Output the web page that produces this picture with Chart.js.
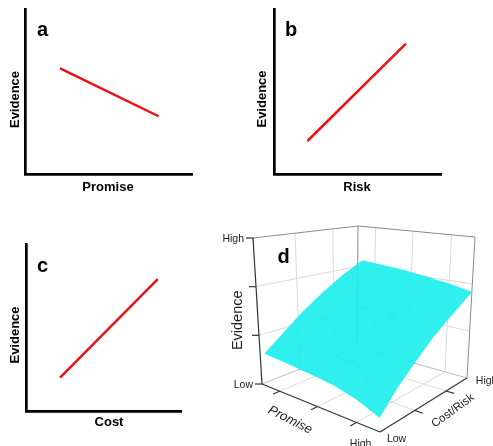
<!DOCTYPE html>
<html><head><meta charset="utf-8">
<script src="https://cdn.jsdelivr.net/npm/chart.js@4"></script>
<style>
html,body{margin:0;padding:0;background:#fff;}
#wrap{position:relative;width:493px;height:446px;overflow:hidden;background:#fff;}
canvas{position:absolute;left:0;top:0;}
</style></head><body>
<div id="wrap">
<canvas id="ca" width="493" height="446"></canvas>
<canvas id="cb" width="493" height="446"></canvas>
<canvas id="cc" width="493" height="446"></canvas>
<canvas id="cd" width="493" height="446"></canvas>
</div>
<script>
// ================= DATA =================
// Panel a: Evidence vs Promise
const promiseA = [2.1, 8.0];
const evidenceA = [6.4, 3.5];
// Panel b: Evidence vs Risk
const riskB = [2.0, 7.9];
const evidenceB = [2.0, 7.9];
// Panel c: Evidence vs Cost
const costC = [2.2, 8.5];
const evidenceC = [2.0, 7.9];

// Panel d: Evidence surface over Promise x Cost/Risk (all on 0..1 scales)
const surfPromise = [0.04, 0.23, 0.42, 0.62, 0.81, 1.0];
const surfCost = [0, 0.2, 0.4, 0.6, 0.8, 1.0];
const evidenceAtCost0  = [0.22, 0.205, 0.19, 0.17, 0.135, 0.08];
const evidenceAtCost20 = [0.32, 0.30, 0.285, 0.265, 0.235, 0.19];
const evidenceAtCost40 = [0.43, 0.41, 0.385, 0.36, 0.33, 0.29];
const evidenceAtCost60 = [0.53, 0.51, 0.485, 0.46, 0.43, 0.40];
const evidenceAtCost80 = [0.63, 0.61, 0.59, 0.56, 0.53, 0.50];
const evidenceAtCost100 = [0.72, 0.705, 0.69, 0.665, 0.64, 0.61];
const evidenceRows = [evidenceAtCost0, evidenceAtCost20, evidenceAtCost40, evidenceAtCost60, evidenceAtCost80, evidenceAtCost100];

// axis ticks of panel d
const evidenceTicks = [0, 1/3, 2/3, 1];
const evidenceTickLabels = ['Low', '', '', 'High'];
const promiseTicks = [0.15, 0.47, 0.8];
const costTicks = [0.4, 0.76];
const lowHigh = ['Low', 'High'];

// ================= LAYOUT / STYLE =================
const W = 493, H = 446;
const FONT = '"Liberation Sans", Arial, Helvetica, sans-serif';
const areaA = {left: 25, top: 9, right: 192, bottom: 174};
const areaB = {left: 274, top: 9, right: 441, bottom: 174};
const areaC = {left: 26, top: 244, right: 181, bottom: 411};

function xy(xs, ys) { return xs.map((x, i) => ({x: x, y: ys[i]})); }

function textPlugin(items) {
  return {
    id: 'txt',
    afterDraw(chart) {
      const ctx = chart.ctx;
      items.forEach(t => {
        ctx.save();
        ctx.font = t.font;
        ctx.fillStyle = t.color || '#000';
        ctx.textAlign = t.align || 'center';
        ctx.textBaseline = t.baseline || 'middle';
        ctx.translate(t.x, t.y);
        if (t.rot) ctx.rotate(t.rot * Math.PI / 180);
        ctx.fillText(t.text, 0, 0);
        ctx.restore();
      });
    }
  };
}

function linePanel(id, xs, ys, area, texts) {
  const axis = (isX) => ({
    type: 'linear', min: 0, max: 10,
    ticks: {display: false},
    grid: {display: false, drawTicks: false},
    border: {display: true, color: '#000', width: 2.7},
    afterFit(s) { if (isX) s.height = 0; else s.width = 0; }
  });
  return new Chart(document.getElementById(id), {
    type: 'line',
    data: {datasets: [{data: xy(xs, ys), borderColor: '#ee1111', borderWidth: 2.5,
      pointRadius: 0, tension: 0, fill: false}]},
    options: {
      responsive: false, animation: false, devicePixelRatio: 1,
      layout: {padding: {left: area.left, top: area.top, right: W - area.right, bottom: H - area.bottom}},
      scales: {x: axis(true), y: axis(false)},
      plugins: {legend: {display: false}, tooltip: {enabled: false}}
    },
    plugins: [textPlugin(texts)]
  });
}

const boldT = 'bold 13px ' + FONT;
const letterF = 'bold 20px ' + FONT;

linePanel('ca', promiseA, evidenceA, areaA, [
  {text: 'Evidence', x: 15, y: 99.5, rot: -90, font: boldT},
  {text: 'Promise', x: 108, y: 187, font: boldT},
  {text: 'a', x: 37, y: 36, align: 'left', baseline: 'alphabetic', font: letterF}
]);
linePanel('cb', riskB, evidenceB, areaB, [
  {text: 'Evidence', x: 262, y: 99, rot: -90, font: boldT},
  {text: 'Risk', x: 357, y: 187, font: boldT},
  {text: 'b', x: 285, y: 36, align: 'left', baseline: 'alphabetic', font: letterF}
]);
linePanel('cc', costC, evidenceC, areaC, [
  {text: 'Evidence', x: 15, y: 335, rot: -90, font: boldT},
  {text: 'Cost', x: 109, y: 422, font: boldT},
  {text: 'c', x: 37, y: 272, align: 'left', baseline: 'alphabetic', font: letterF}
]);

// ================= PANEL d (3D surface via projection) =================
const cube = {
  p0c0e0: [262, 384], p1c0e0: [380, 432], p1c1e0: [467, 378], p0c1e0: [357, 347],
  p0c0e1: [253, 238], p1c0e1: [374, 252], p1c1e1: [475, 237], p0c1e1: [358, 226]
};
function lerp(a, b, t) { return [a[0] + (b[0] - a[0]) * t, a[1] + (b[1] - a[1]) * t]; }
function proj(p, c, e) {
  const b0 = lerp(lerp(cube.p0c0e0, cube.p1c0e0, p), lerp(cube.p0c1e0, cube.p1c1e0, p), c);
  const b1 = lerp(lerp(cube.p0c0e1, cube.p1c0e1, p), lerp(cube.p0c1e1, cube.p1c1e1, p), c);
  const r = lerp(b0, b1, e);
  return {x: r[0], y: r[1]};
}

const dsD = [];
function seg(a, b, color, width) {
  dsD.push({data: [proj(a[0], a[1], a[2]), proj(b[0], b[1], b[2])], borderColor: color,
    borderWidth: width, pointRadius: 0, tension: 0, fill: false});
}
function segPx(a, b, color, width) {
  dsD.push({data: [a, b], borderColor: color, borderWidth: width, pointRadius: 0, tension: 0, fill: false});
}
const GRID = '#d9d9d9', EDGE = '#8a8a8a', AX = '#333';

// back-wall & floor grid lines
evidenceTicks.slice(1, 3).forEach(e => { seg([0, 0, e], [0, 1, e], GRID, 1); seg([0, 1, e], [1, 1, e], GRID, 1); });
costTicks.forEach(c => { seg([0, c, 0], [0, c, 1], GRID, 1); seg([0, c, 0], [1, c, 0], GRID, 1); });
promiseTicks.forEach(p => { seg([p, 1, 0], [p, 1, 1], GRID, 1); seg([p, 0, 0], [p, 1, 0], GRID, 1); });
// back floor edges
seg([0, 0, 0], [0, 1, 0], '#bdbdbd', 1);
seg([0, 1, 0], [1, 1, 0], '#bdbdbd', 1);
// box edges
seg([0, 1, 0], [0, 1, 1], EDGE, 1);
seg([1, 1, 0], [1, 1, 1], EDGE, 1);
seg([0, 0, 1], [0, 1, 1], EDGE, 1);
seg([0, 1, 1], [1, 1, 1], EDGE, 1);
// front axes
seg([0, 0, 0], [0, 0, 1], AX, 1.2);
seg([0, 0, 0], [1, 0, 0], AX, 1.2);
seg([1, 0, 0], [1, 1, 0], AX, 1.2);
// ticks
evidenceTicks.forEach(e => { const q = proj(0, 0, e); segPx(q, {x: q.x - 7, y: q.y}, AX, 1.2); });
promiseTicks.forEach(p => seg([p, 0, 0], [p, -0.07, 0], AX, 1.2));
costTicks.forEach(c => seg([1, c, 0], [1.07, c, 0], AX, 1.2));

// surface outline (closed polygon, filled)
const nP = surfPromise.length, nC = surfCost.length;
const sp = (i, j) => proj(surfPromise[i], surfCost[j], evidenceRows[j][i]);
const outline = [];
for (let i = 0; i < nP; i++) outline.push(sp(i, 0));
for (let j = 1; j < nC; j++) outline.push(sp(nP - 1, j));
for (let i = nP - 2; i >= 0; i--) outline.push(sp(i, nC - 1));
for (let j = nC - 2; j >= 0; j--) outline.push(sp(0, j));
dsD.push({data: outline, borderColor: 'rgba(30,238,238,0.92)', borderWidth: 0.5,
  backgroundColor: 'rgba(30,238,238,0.92)', fill: 'shape', pointRadius: 0, tension: 0});
// very faint mesh
const MESH = 'rgba(0,150,160,0.05)';
for (let j = 1; j < nC - 1; j++) {
  const row = []; for (let i = 0; i < nP; i++) row.push(sp(i, j));
  dsD.push({data: row, borderColor: MESH, borderWidth: 1, pointRadius: 0, tension: 0, fill: false});
}
for (let i = 1; i < nP - 1; i++) {
  const col = []; for (let j = 0; j < nC; j++) col.push(sp(i, j));
  dsD.push({data: col, borderColor: MESH, borderWidth: 1, pointRadius: 0, tension: 0, fill: false});
}
dsD.forEach((d, i) => { d.order = -i; });

const tickF = '10.5px ' + FONT, dCol = '#222';
const textsD = [];
evidenceTicks.forEach((e, k) => {
  if (!evidenceTickLabels[k]) return;
  const q = proj(0, 0, e);
  textsD.push({text: evidenceTickLabels[k], x: q.x - 9, y: q.y + 1, align: 'right', font: tickF, color: dCol});
});
(() => {
  const q1 = proj(1, -0.2, 0);
  textsD.push({text: lowHigh[1], x: q1.x - 2, y: q1.y + 1, font: tickF, color: dCol});
  const q2 = proj(1.14, 0, 0);
  textsD.push({text: lowHigh[0], x: q2.x, y: q2.y, font: tickF, color: dCol});
  const q3 = proj(1.08, 1, 0);
  textsD.push({text: lowHigh[1], x: q3.x, y: q3.y + 1, align: 'left', font: tickF, color: dCol});
  const qe = proj(0, 0, 0.45);
  textsD.push({text: 'Evidence', x: qe.x - 20, y: qe.y + 2, rot: -90, font: '14.5px ' + FONT, color: dCol});
  const qp = proj(0.47, -0.3, 0);
  textsD.push({text: 'Promise', x: qp.x, y: qp.y, rot: 27, font: 'italic 13px ' + FONT, color: dCol});
  const qc = proj(1.22, 0.55, 0);
  textsD.push({text: 'Cost/Risk', x: qc.x, y: qc.y, rot: -36, font: '11.5px ' + FONT, color: dCol});
  const qd = proj(0, 0.22, 0.8);
  textsD.push({text: 'd', x: qd.x, y: qd.y, align: 'left', baseline: 'alphabetic', font: letterF, color: '#000'});
})();

new Chart(document.getElementById('cd'), {
  type: 'line',
  data: {datasets: dsD},
  options: {
    responsive: false, animation: false, devicePixelRatio: 1,
    layout: {padding: 0},
    scales: {
      x: {type: 'linear', min: 0, max: W, display: false},
      y: {type: 'linear', min: 0, max: H, reverse: true, display: false}
    },
    plugins: {legend: {display: false}, tooltip: {enabled: false}}
  },
  plugins: [textPlugin(textsD)]
});
</script>
</body></html>
